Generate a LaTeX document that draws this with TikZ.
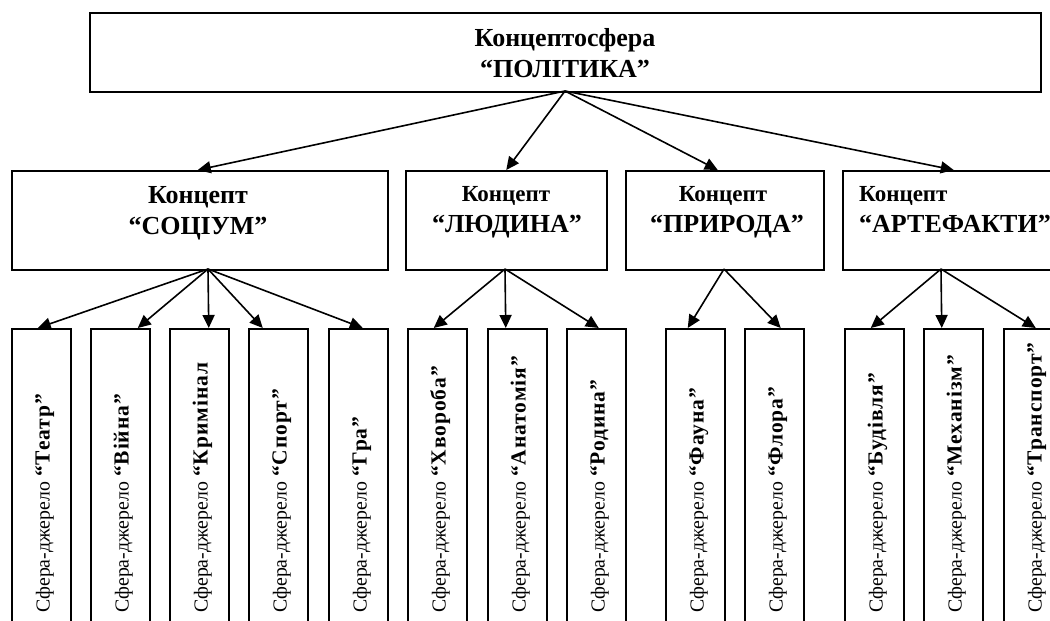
\documentclass[tikz,border=0pt]{standalone}
\usepackage{fontspec}
\setmainfont{Liberation Serif}
\usetikzlibrary{arrows.meta}
\tikzset{
  box/.style={draw, line width=1.5pt, rectangle, inner sep=0pt},
  arr/.style={line width=1.6pt, -{Triangle[length=13pt,width=12pt]}},
  big/.style={font=\fontsize{26}{30}\selectfont\bfseries, inner sep=0pt, anchor=base},
  mid/.style={font=\fontsize{23}{27}\selectfont\bfseries, inner sep=0pt, anchor=base},
  vtext/.style={font=\fontsize{19.8}{24}\selectfont, inner sep=0pt, rotate=90, anchor=base west},
}
\newcommand{\spbold}[1]{{\fontsize{21.5}{24}\selectfont\bfseries\addfontfeature{LetterSpace=4.5}#1}}
\newcommand{\leaf}[3]{%
  \node[box, minimum width=59pt, minimum height=320pt, anchor=north west] (#1) at (#2,328) {};
  \node[vtext] (#1-t) at ({#2+38.5},613) {Сфера-джерело \spbold{#3}};
}
\begin{document}
\begin{tikzpicture}[x=1pt,y=-1pt]
\useasboundingbox (0,0) rectangle (1050,621);
\clip (0,0) rectangle (1050,621);
\fill[white] (0,0) rectangle (1050,621);
% top
\node[box, minimum width=951pt, minimum height=79pt, anchor=north west] (top) at (89,12) {};
\node[big] (top-a) at (565,46) {Концептосфера};
\node[big] (top-b) at (565,77) {“ПОЛІТИКА”};
% level 2
\node[box, minimum width=376pt, minimum height=99pt, anchor=north west] (soc) at (11,170) {};
\node[big] (soc-a) at (198,203) {Концепт};
\node[big] (soc-b) at (198,234) {“СОЦІУМ”};
\node[box, minimum width=201pt, minimum height=99pt, anchor=north west] (lud) at (405,170) {};
\node[mid] (lud-a) at (506,201) {Концепт};
\node[big] (lud-b) at (507,232) {“ЛЮДИНА”};
\node[box, minimum width=198pt, minimum height=99pt, anchor=north west] (pri) at (625,170) {};
\node[mid] (pri-a) at (723,201) {Концепт};
\node[big] (pri-b) at (727,232) {“ПРИРОДА”};
\node[box, minimum width=230pt, minimum height=99pt, anchor=north west] (art) at (842,170) {};
\node[mid, anchor=base west] (art-a) at (859,201) {Концепт};
\node[big, anchor=base west] (art-b) at (859,232) {“АРТЕФАКТИ”};
% leaves
\leaf{l1}{11}{“Театр”}
\leaf{l2}{90}{“Війна”}
\leaf{l3}{169}{“Кримінал}
\leaf{l4}{248}{“Спорт”}
\leaf{l5}{328}{“Гра”}
\leaf{l6}{407}{“Хвороба”}
\leaf{l7}{487}{“Анатомія”}
\leaf{l8}{566}{“Родина”}
\leaf{l9}{665}{“Фауна”}
\leaf{l10}{744}{“Флора”}
\leaf{l11}{844}{“Будівля”}
\leaf{l12}{923}{“Механізм”}
\leaf{l13}{1003}{“Транспорт”}
% origins
\coordinate (o-top) at (565,91);
\coordinate (o-soc) at (208,269);
\coordinate (o-lud) at (505,269);
\coordinate (o-pri) at (724,269);
\coordinate (o-art) at (941,269);
% arrows level 1
\draw[arr] (o-top) -- ([xshift=-2pt]soc.north);
\draw[arr] (o-top) -- (lud.north);
\draw[arr] (o-top) -- ([xshift=-7pt]pri.north);
\draw[arr] (o-top) -- ([xshift=-4pt]art.north);
% arrows level 2
\draw[arr] (o-soc) -- ([xshift=-3.5pt]l1.north);
\draw[arr] (o-soc) -- ([xshift=17.5pt]l2.north);
\draw[arr] (o-soc) -- ([xshift=9.5pt]l3.north);
\draw[arr] (o-soc) -- ([xshift=-15.5pt]l4.north);
\draw[arr] (o-soc) -- ([xshift=4.5pt]l5.north);
\draw[arr] (o-lud) -- ([xshift=-3.5pt]l6.north);
\draw[arr] (o-lud) -- ([xshift=-11.5pt]l7.north);
\draw[arr] (o-lud) -- ([xshift=2.5pt]l8.north);
\draw[arr] (o-pri) -- ([xshift=-7.5pt]l9.north);
\draw[arr] (o-pri) -- ([xshift=6.5pt]l10.north);
\draw[arr] (o-art) -- ([xshift=-3.5pt]l11.north);
\draw[arr] (o-art) -- ([xshift=-11.5pt]l12.north);
\draw[arr] (o-art) -- ([xshift=2.5pt]l13.north);
\end{tikzpicture}
\end{document}
